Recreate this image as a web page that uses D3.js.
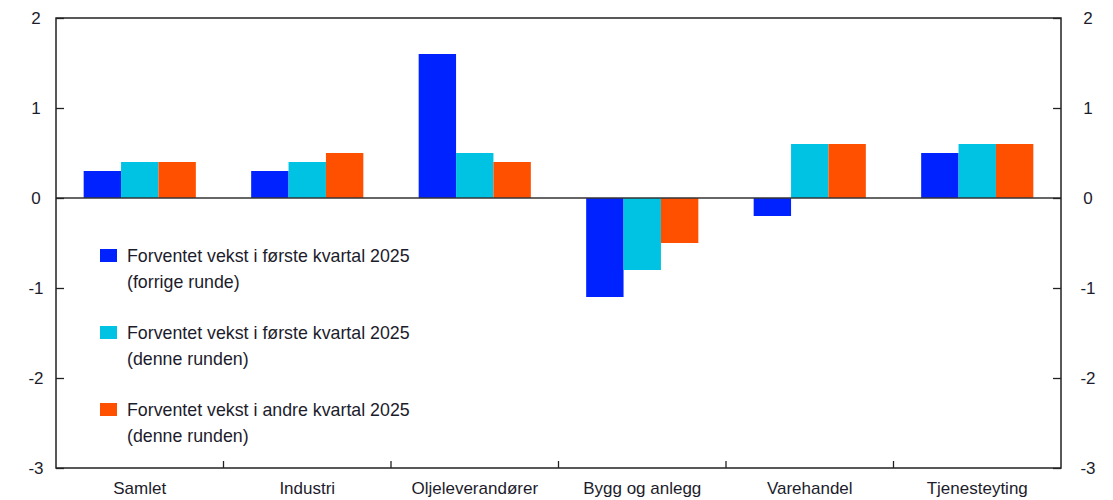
<!DOCTYPE html>
<html>
<head>
<meta charset="utf-8">
<script src="https://cdn.jsdelivr.net/npm/d3@7"></script>
<style>
  body { margin: 0; background: #fff; }
  text { font-family: "Liberation Sans", Arial, sans-serif; fill: #1c1c2c; }
</style>
</head>
<body>
<svg id="chart" width="1113" height="500"></svg>
<script>
// data
const categories = ["Samlet", "Industri", "Oljeleverandører", "Bygg og anlegg", "Varehandel", "Tjenesteyting"];
const seriesNames = [
  ["Forventet vekst i første kvartal 2025", "(forrige runde)"],
  ["Forventet vekst i første kvartal 2025", "(denne runden)"],
  ["Forventet vekst i andre kvartal 2025", "(denne runden)"]
];
const prevRoundQ1 = [0.3, 0.3, 1.6, -1.1, -0.2, 0.5];
const thisRoundQ1 = [0.4, 0.4, 0.5, -0.8, 0.6, 0.6];
const thisRoundQ2 = [0.4, 0.5, 0.4, -0.5, 0.6, 0.6];
const yTicks = [2, 1, 0, -1, -2, -3];
const colors = ["#0022ff", "#00c3e3", "#ff5000"];

const series = [prevRoundQ1, thisRoundQ1, thisRoundQ2];

const svg = d3.select("#chart");
const plotLeft = 56, plotRight = 1061, plotTop = 18, plotBottom = 468;
const fontSize = 17;

const x = d3.scaleBand().domain(categories).range([plotLeft, plotRight]);
const xInner = d3.scaleBand().domain(d3.range(series.length))
  .range([0, x.bandwidth()]).paddingInner(0).paddingOuter(0.74);
const y = d3.scaleLinear().domain([-3, 2]).range([plotBottom, plotTop]);

// bars
series.forEach((vals, s) => {
  svg.append("g").selectAll("rect")
    .data(vals)
    .enter()
    .append("rect")
    .attr("x", (d, i) => x(categories[i]) + xInner(s))
    .attr("width", xInner.bandwidth())
    .attr("y", d => y(Math.max(0, d)))
    .attr("height", d => Math.abs(y(d) - y(0)))
    .attr("fill", colors[s]);
});

// zero line
svg.append("line")
  .attr("x1", plotLeft).attr("x2", plotRight)
  .attr("y1", y(0)).attr("y2", y(0))
  .attr("stroke", "#333").attr("stroke-width", 1.3);

// frame
svg.append("rect")
  .attr("x", plotLeft).attr("y", plotTop)
  .attr("width", plotRight - plotLeft).attr("height", plotBottom - plotTop)
  .attr("fill", "none").attr("stroke", "#222").attr("stroke-width", 1.5);

// y axes (ticks inside)
const yLeft = svg.append("g").attr("transform", `translate(${plotLeft},0)`)
  .call(d3.axisRight(y).tickValues(yTicks).tickSize(8).tickFormat(""));
const yRight = svg.append("g").attr("transform", `translate(${plotRight},0)`)
  .call(d3.axisLeft(y).tickValues(yTicks).tickSize(8).tickFormat(""));
[yLeft, yRight].forEach(g => {
  g.select(".domain").remove();
  g.selectAll("line").attr("stroke", "#222").attr("stroke-width", 1.3);
});

svg.append("g").selectAll("text")
  .data(yTicks).enter().append("text")
  .attr("x", 36).attr("y", d => y(d) + 6)
  .attr("text-anchor", "middle").attr("font-size", fontSize)
  .text(d => d);
svg.append("g").selectAll("text")
  .data(yTicks).enter().append("text")
  .attr("x", 1088).attr("y", d => y(d) + 6)
  .attr("text-anchor", "middle").attr("font-size", fontSize)
  .text(d => d);

// x ticks at category boundaries, pointing up
svg.append("g").selectAll("line")
  .data(categories.slice(1)).enter().append("line")
  .attr("x1", d => x(d)).attr("x2", d => x(d))
  .attr("y1", plotBottom).attr("y2", plotBottom - 7)
  .attr("stroke", "#222").attr("stroke-width", 1.3);

svg.append("g").selectAll("text")
  .data(categories).enter().append("text")
  .attr("x", d => x(d) + x.bandwidth() / 2)
  .attr("y", 494)
  .attr("text-anchor", "middle").attr("font-size", fontSize)
  .text(d => d);

// legend
const legend = svg.append("g");
seriesNames.forEach((lines, i) => {
  const ly = 249 + i * 77;
  legend.append("rect")
    .attr("x", 100).attr("y", ly).attr("width", 17).attr("height", 13)
    .attr("fill", colors[i]);
  lines.forEach((t, j) => {
    legend.append("text")
      .attr("x", 127).attr("y", ly + 13 + j * 26)
      .attr("font-size", 17.8)
      .text(t);
  });
});
</script>
</body>
</html>
